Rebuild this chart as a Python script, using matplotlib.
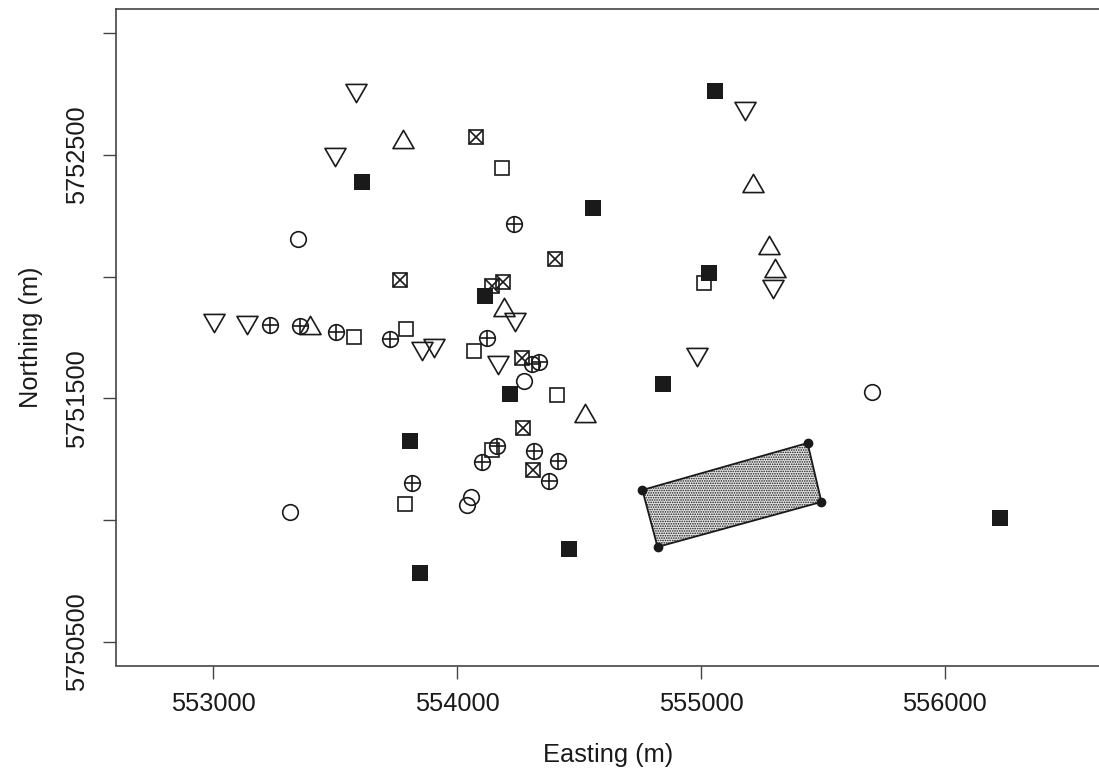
import matplotlib
matplotlib.use('Agg')
import matplotlib.pyplot as plt
import matplotlib.patches as mpatches
from matplotlib.path import Path

# ── 점 좌표 (Easting, Northing, m) ───────────────────────────────────────────
SOLID_E  = [553609, 554558, 555056, 555032, 554114, 554216, 554843, 553806, 554459, 553850, 556224]
SOLID_N  = [5752388, 5752281, 5752763, 5752013, 5751920, 5751517, 5751558, 5751326, 5750881, 5750781, 5751008]

SQUARE_E = [554183, 553792, 553576, 554069, 554411, 554145, 553785, 555012]
SQUARE_N = [5752447, 5751783, 5751753, 5751694, 5751513, 5751287, 5751064, 5751975]

CIRCLE_E = [553350, 554273, 555703, 554059, 554041, 553317]
CIRCLE_N = [5752154, 5751572, 5751526, 5751096, 5751062, 5751034]

TUP_E    = [553778, 555215, 555281, 555302, 554191, 553396, 554524]
TUP_N    = [5752554, 5752372, 5752116, 5752024, 5751862, 5751787, 5751428]

TDOWN_E  = [553587, 553500, 555181, 555297, 554238, 553004, 553141, 553856, 553905, 554169, 554982]
TDOWN_N  = [5752766, 5752502, 5752693, 5751961, 5751824, 5751821, 5751814, 5751708, 5751717, 5751650, 5751682]

CPLUS_E  = [554232, 553235, 553355, 553505, 553724, 554122, 554338, 554306,
            554163, 554102, 554314, 554415, 554379, 553815]
CPLUS_N  = [5752216, 5751801, 5751798, 5751773, 5751742, 5751747, 5751650, 5751641,
            5751305, 5751239, 5751284, 5751242, 5751160, 5751153]

SQX_E    = [554076, 554402, 553765, 554142, 554188, 554268, 554270, 554310]
SQX_N    = [5752574, 5752072, 5751986, 5751959, 5751976, 5751667, 5751377, 5751205]

# 사각형 영역 꼭짓점
AREA_E   = [554760, 555437, 555494, 554822]
AREA_N   = [5751123, 5751316, 5751074, 5750889]

XTICKS = [553000, 554000, 555000, 556000]
YTICKS = [5750500, 5751000, 5751500, 5752000, 5752500, 5753000]
YTICK_LABELS = ['5750500', '', '5751500', '', '5752500', '']

INK = '#1a1a1a'
plt.rcParams['font.family'] = ['Liberation Sans', 'DejaVu Sans']
plt.rcParams['hatch.linewidth'] = 0.8
plt.rcParams['hatch.color'] = '#333333'

W, H = 1099, 774
fig = plt.figure(figsize=(W / 100, H / 100), dpi=100)
fig.patch.set_facecolor('white')

# 축 위치 (픽셀 기준) - 오른쪽 테두리는 그림 가장자리에서 잘림
left_px, right_px, top_px, bottom_px = 115.5, 1101.0, 9.0, 665.5
ax = fig.add_axes([left_px / W, 1 - bottom_px / H,
                   (right_px - left_px) / W, (bottom_px - top_px) / H])
ax.set_xlim(552600, 556640)
ax.set_ylim(5750402, 5753099)

# R 스타일 삼각형 마커
tri_up = Path([(0, 1.555), (1.3468, -0.7776), (-1.3468, -0.7776), (0, 1.555)], closed=True)
tri_dn = Path([(0, -1.555), (1.3468, 0.7776), (-1.3468, 0.7776), (0, -1.555)], closed=True)

PX = 0.72  # px -> pt
R = 7.8    # 기호 반지름 (px)
lw = 1.2
open_kw = dict(ls='none', mfc='none', mec=INK, mew=lw, zorder=3)

ax.plot(SOLID_E, SOLID_N, ls='none', marker='s', ms=2 * R * PX, mfc=INK, mec=INK, mew=0, zorder=3)
ax.plot(SQUARE_E, SQUARE_N, marker='s', ms=1.772 * R * PX, **open_kw)
ax.plot(CIRCLE_E, CIRCLE_N, marker='o', ms=2 * R * PX, **open_kw)
ax.plot(TUP_E, TUP_N, marker=tri_up, ms=3.11 * R * PX, **open_kw)
ax.plot(TDOWN_E, TDOWN_N, marker=tri_dn, ms=3.11 * R * PX, **open_kw)
ax.plot(CPLUS_E, CPLUS_N, marker='o', ms=2 * R * PX, **open_kw)
ax.plot(CPLUS_E, CPLUS_N, marker='+', ms=2 * R * PX, **open_kw)
ax.plot(SQX_E, SQX_N, marker='s', ms=1.772 * R * PX, **open_kw)
ax.plot(SQX_E, SQX_N, marker='x', ms=1.772 * R * PX, **open_kw)

# 점묘 채움 영역
area = mpatches.Polygon(list(zip(AREA_E, AREA_N)), closed=True, facecolor='#e6e6e6',
                        edgecolor=INK, lw=1.3, hatch='.......', zorder=2)
ax.add_patch(area)
ax.plot(AREA_E, AREA_N, ls='none', marker='o', ms=6, color=INK, zorder=3)

# 축 눈금
ax.set_xticks(XTICKS)
ax.set_xticklabels([str(v) for v in XTICKS])
ax.set_yticks(YTICKS)
ax.set_yticklabels(YTICK_LABELS, rotation=90, va='center')
ax.tick_params(axis='both', length=9.4, width=1.0, color='#444444',
               labelsize=18.3, labelcolor=INK)
ax.tick_params(axis='x', pad=9.5)
ax.tick_params(axis='y', pad=10.0)
for s in ax.spines.values():
    s.set_linewidth(1.2)
    s.set_color('#444444')

fig.text(608 / W, 1 - 755 / H, 'Easting (m)', ha='center', va='center',
         fontsize=18.3, color=INK)
fig.text(31 / W, 1 - 337 / H, 'Northing (m)', ha='center', va='center',
         rotation=90, fontsize=18.3, color=INK)

fig.savefig('out.png', dpi=100, facecolor='white')
plt.close(fig)
